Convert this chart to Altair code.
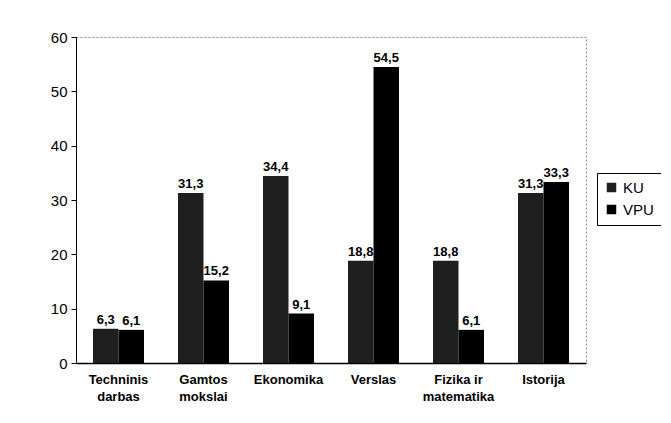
import altair as alt
import pandas as pd

categories = ["Techninis darbas", "Gamtos mokslai", "Ekonomika", "Verslas",
              "Fizika ir matematika", "Istorija"]
series = ["KU", "VPU"]
ku_values = [6.3, 31.3, 34.4, 18.8, 18.8, 31.3]
vpu_values = [6.1, 15.2, 9.1, 54.5, 6.1, 33.3]
y_ticks = [0, 10, 20, 30, 40, 50, 60]
colors = ["#1e1e1e", "#000000"]

rows = []
for c, k, v in zip(categories, ku_values, vpu_values):
    rows.append({"cat": c, "ser": "KU", "val": k})
    rows.append({"cat": c, "ser": "VPU", "val": v})
df = pd.DataFrame(rows)
df["lab"] = df["val"].map(lambda x: f"{x:.1f}".replace(".", ","))

FONT = "Liberation Sans"

label_expr = ("datum.label == 'Fizika ir matematika' ? ['Fizika ir', 'matematika'] : "
              "split(datum.label, ' ')")

base = alt.Chart(df)

bars = base.mark_bar().encode(
    x=alt.X("cat:N", sort=categories, title=None,
            scale=alt.Scale(paddingInner=0.4, paddingOuter=0.2),
            axis=alt.Axis(labelExpr=label_expr, labelAngle=0, labelFont=FONT,
                          labelFontSize=13, labelFontWeight="bold",
                          labelColor="black", labelLineHeight=17,
                          labelPadding=10, ticks=False, domainColor="black",
                          domainWidth=1.5)),
    xOffset=alt.XOffset("ser:N", sort=series),
    y=alt.Y("val:Q", title=None,
            scale=alt.Scale(domain=[0, 60], nice=False),
            axis=alt.Axis(values=y_ticks, grid=False, labelFont=FONT,
                          labelFontSize=15, labelColor="black",
                          domainColor="black", tickColor="black",
                          tickSize=5, labelPadding=4)),
    color=alt.Color("ser:N", sort=series,
                    scale=alt.Scale(domain=series, range=colors),
                    legend=alt.Legend(title=None, orient="none",
                                      legendX=521, legendY=136,
                                      strokeColor="black", padding=7,
                                      symbolType="square", symbolSize=90,
                                      symbolStrokeWidth=0,
                                      labelFont=FONT, labelFontSize=15,
                                      labelColor="black", rowPadding=6)),
)

texts = base.mark_text(baseline="bottom", dy=-2, font=FONT, fontSize=13,
                       fontWeight="bold", color="black").encode(
    x=alt.X("cat:N", sort=categories),
    xOffset=alt.XOffset("ser:N", sort=series),
    y=alt.Y("val:Q"),
    text="lab:N",
)

chart = alt.layer(bars, texts).properties(
    width=510, height=326,
    autosize=alt.AutoSizeParams(type="none"),
    padding={"left": 68, "top": 29, "right": 75, "bottom": 45},
).configure_view(stroke="#888888", strokeDash=[2, 2], strokeWidth=1)

chart.save("out.html", embed_options={"renderer": "svg", "actions": False})
